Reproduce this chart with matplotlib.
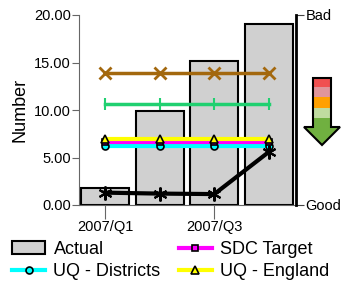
import matplotlib
matplotlib.use("Agg")
import matplotlib.pyplot as plt
from matplotlib.patches import Polygon, Rectangle

plt.rcParams['font.family'] = ['Liberation Sans', 'DejaVu Sans']

quarters = ["2007/Q1", "2007/Q2", "2007/Q3", "2007/Q4"]
actual_bars = [1.8, 9.9, 15.2, 19.05]
actual_line = [1.3, 1.2, 1.15, 5.6]
brown_vals = [13.9, 13.9, 13.9, 13.9]
green_vals = [10.6, 10.6, 10.6, 10.6]
uq_districts = [6.2, 6.2, 6.2, 6.2]
sdc_target = [6.6, 6.6, 6.6, 6.6]
uq_england = [7.0, 7.0, 7.0, 7.0]
yticks = [0, 5, 10, 15, 20]
ytick_labels = ["0.00", "5.00", "10.00", "15.00", "20.00"]
xtick_idx = [0, 2]
right_labels = ["Good", "Bad"]
arrow_colors = ["#f05050", "#e0959a", "#ffa000", "#c0dca0"]

W, H = 342, 284
fig = plt.figure(figsize=(W / 100, H / 100), dpi=100)
ax = fig.add_axes([79 / W, 1 - 205 / H, (296 - 79) / W, (205 - 15) / H])

x = list(range(len(quarters)))
bars = ax.bar(x, actual_bars, width=0.88, color="#d0d0d0", edgecolor="black",
              linewidth=1.5, label="Actual", zorder=2)
ax.plot(x, brown_vals, color="#a3680e", lw=2.5, marker="x", ms=9, mew=2, zorder=3)
ax.plot(x, green_vals, color="#20d070", lw=2.5, marker="|", ms=8, mew=1.5, zorder=3)
l_cy, = ax.plot(x, uq_districts, color="#00ffff", lw=3, marker="o", ms=5,
                mfc="#00ffff", mec="black", mew=1.2, label="UQ - Districts", zorder=4)
l_mg, = ax.plot(x, sdc_target, color="#ff00ff", lw=3, marker="s", ms=5,
                mfc="#ff00ff", mec="black", mew=1.2, label="SDC Target", zorder=4)
l_ye, = ax.plot(x, uq_england, color="#ffff00", lw=3, marker="^", ms=6,
                mfc="#ffff00", mec="black", mew=1.2, label="UQ - England", zorder=4)
ax.plot(x, actual_line, color="black", lw=3, marker=(6, 2, 0), ms=10, mew=1.5, zorder=5)

ax.set_xlim(-0.476, 3.494)
ax.set_ylim(0, 20)
ax.set_yticks(yticks)
ax.set_yticklabels(ytick_labels, fontsize=10.5)
ax.set_xticks(xtick_idx)
ax.set_xticklabels([quarters[i] for i in xtick_idx], fontsize=10.5)
ax.tick_params(axis="y", length=5, color="#666666", width=0.8, pad=1)
ax.tick_params(axis="x", length=10, color="#666666", width=0.8, pad=1)
for s in ["top", "right"]:
    ax.spines[s].set_visible(False)
for s in ["left", "bottom"]:
    ax.spines[s].set_color("#666666")
    ax.spines[s].set_linewidth(0.8)
ax.set_ylabel("Number", fontsize=13, labelpad=4)

ax2 = ax.twinx()
ax2.set_ylim(0, 20)
ax2.set_yticks([0, 20])
ax2.set_yticklabels(right_labels, fontsize=10.5)
ax2.tick_params(axis="y", length=6, color="#444444", width=0.8, pad=1)
for s in ["top", "left", "bottom"]:
    ax2.spines[s].set_visible(False)
ax2.spines["right"].set_linewidth(2)
ax2.spines["right"].set_color("black")

# legend (column-major order)
handles = [bars, l_cy, l_mg, l_ye]
labels = ["Actual", "UQ - Districts", "SDC Target", "UQ - England"]
fig.legend(handles, labels, ncol=2, loc="upper left", bbox_to_anchor=(0.035, 1 - 241 / H),
           frameon=False, fontsize=13, handlelength=1.85, handleheight=0.75,
           handletextpad=0.45, columnspacing=1.0, labelspacing=0.3, borderaxespad=0.0,
           borderpad=0.0)

# direction arrow (pixel coords -> figure fractions)
def fx(px):
    return px / W

def fy(py):
    return 1 - py / H

seg_edges = [78, 87, 97, 108, 118]
for i, c in enumerate(arrow_colors):
    fig.patches.append(Rectangle((fx(313), fy(seg_edges[i + 1])), fx(331) - fx(313),
                                 fy(seg_edges[i]) - fy(seg_edges[i + 1]),
                                 transform=fig.transFigure, facecolor=c,
                                 edgecolor="none", zorder=5))
arrow_pts = [(313, 118), (331, 118), (331, 127), (340, 127), (322, 145),
             (304, 127), (313, 127)]
fig.patches.append(Polygon([(fx(a), fy(b)) for a, b in arrow_pts], closed=True,
                           transform=fig.transFigure, facecolor="#70b040",
                           edgecolor="none", zorder=5))
outline = [(313, 78), (331, 78), (331, 127), (340, 127), (322, 145), (304, 127), (313, 127)]
fig.patches.append(Polygon([(fx(a), fy(b)) for a, b in outline], closed=True,
                           transform=fig.transFigure, facecolor="none",
                           edgecolor="black", lw=1.5, zorder=6))

fig.savefig("out.png", dpi=100)
